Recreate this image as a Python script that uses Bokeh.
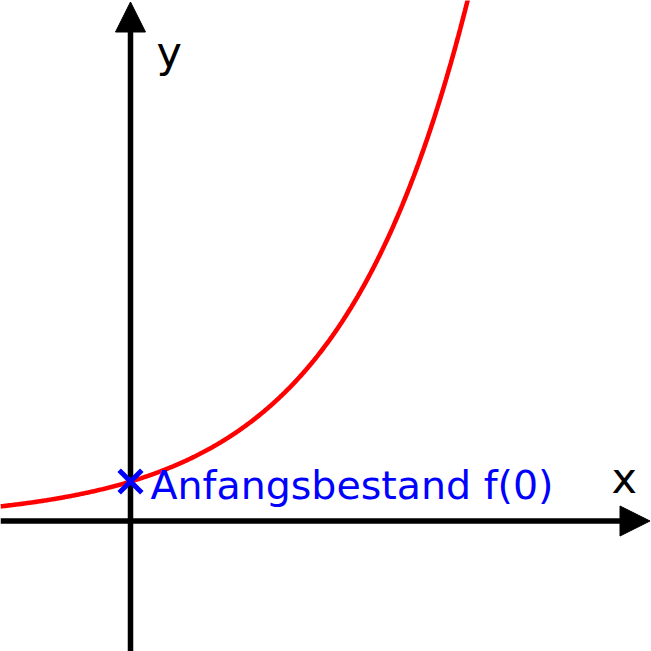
import numpy as np
from bokeh.plotting import figure
from bokeh.models import Arrow, NormalHead, Range1d
from bokeh.core.properties import value
from bokeh.embed import file_html
from bokeh.resources import INLINE

# ---- data (units: one unit ~ one reference pixel) ----
f0 = 39.5            # Anfangsbestand f(0)
k = 0.00765          # growth rate per unit x
x_min, x_max = -130.0, 521.0
y_min, y_max = -130.5, 520.5
curve_x = np.linspace(x_min, 345.0, 500)
curve_y = f0 * np.exp(k * curve_x)

start_label = ["Anfangsbestand f(0)"]
axis_names = ["x", "y"]

W = H = 651
p = figure(width=W, height=H, x_range=Range1d(x_min, x_max), y_range=Range1d(y_min, y_max),
           output_backend="svg", toolbar_location=None, min_border=0,
           x_axis_location=None, y_axis_location=None)
p.grid.visible = False
p.outline_line_color = None
p.background_fill_color = "white"
p.border_fill_color = "white"

# axes with arrow heads
head_kw = dict(size=30, fill_color="black", line_color="black", line_width=1)
p.add_layout(Arrow(end=NormalHead(**head_kw), x_start=x_min, y_start=0, x_end=x_max - 1.5, y_end=0,
                   line_width=5.5, line_color="black", level="underlay"))
p.add_layout(Arrow(end=NormalHead(**head_kw), x_start=0, y_start=y_min, x_end=0, y_end=y_max - 1.5,
                   line_width=5.5, line_color="black", level="underlay"))

# exponential curve
p.line(curve_x, curve_y, line_color="#ff0000", line_width=4.6)

# start value marker
p.scatter([0], [f0], marker="x", size=32, line_width=5, line_color="#0000ff")

# texts
p.text(x=[20], y=[36], text=start_label, text_font=value("DejaVu Sans"),
       text_font_size="39.5px", text_color="#0000ff", text_baseline="alphabetic", text_align="left")
p.text(x=[481, 26], y=[43, 469], text=axis_names, text_font=value("DejaVu Sans"),
       text_font_size="43px", text_color="black", text_baseline="alphabetic", text_align="left")

open("out.html", "w").write(file_html(p, INLINE))
